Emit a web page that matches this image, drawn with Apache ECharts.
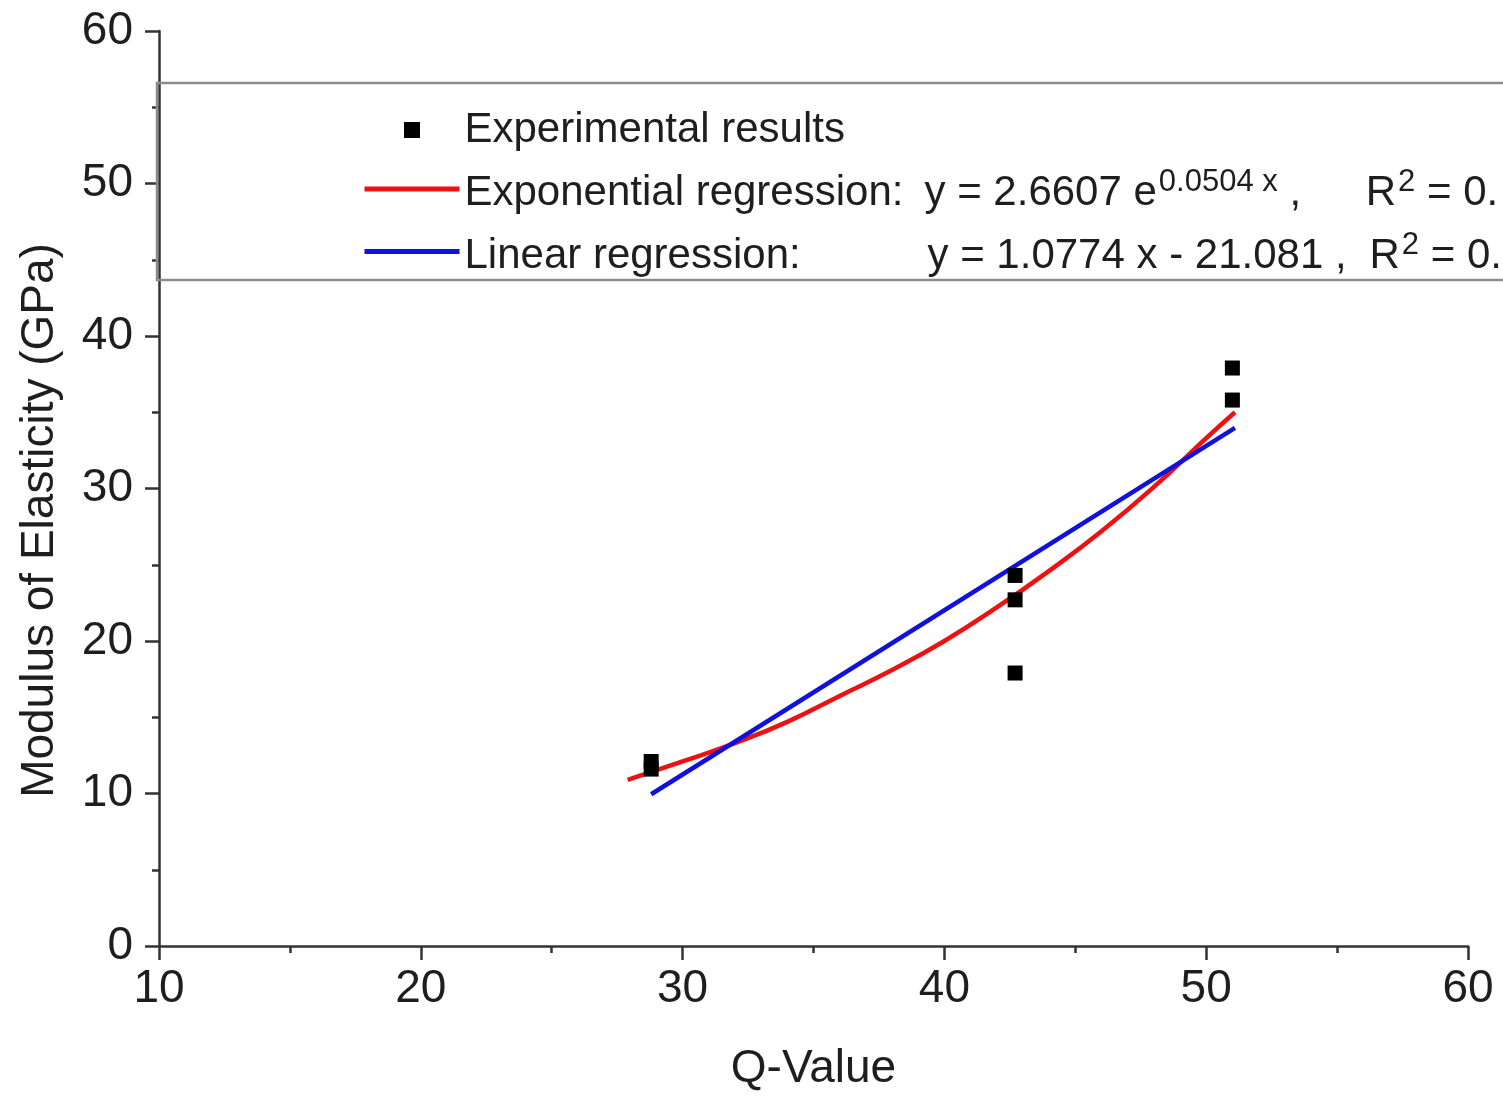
<!DOCTYPE html>
<html>
<head>
<meta charset="utf-8">
<script src="https://cdn.jsdelivr.net/npm/echarts@6/dist/echarts.min.js"></script>
<style>
html,body{margin:0;padding:0;background:#fff;overflow:hidden;}
#chart{width:1503px;height:1097px;}
</style>
</head>
<body>
<div id="chart"></div>
<script>
// ---- data ----
const expQ = [28.8, 28.8, 42.7, 42.7, 42.7, 51.0, 51.0];
const expE = [12.1, 11.6, 24.3, 22.7, 17.9, 37.9, 35.8];

const expFitQ = [27.9, 30, 32, 34, 36, 38, 40, 42, 44, 46, 48, 50, 51.1];
const expFitE = [10.9, 12.1, 13.3, 14.7, 16.4, 18.1, 20.0, 22.2, 24.6, 27.2, 30.1, 33.3, 35.0];

const linFitQ = [28.8, 51.1];
const linFitE = [9.95, 33.97];

const xTicks = [10, 20, 30, 40, 50, 60];
const yTicks = [0, 10, 20, 30, 40, 50, 60];

const seriesNames = ['Experimental results', 'Exponential regression', 'Linear regression'];

const pairs = (xs, ys) => xs.map((x, i) => [x, ys[i]]);

const FONT = '"Liberation Sans", Arial, sans-serif';
const TXT = '#1e1e1e';

const chart = echarts.init(document.getElementById('chart'), null, {renderer: 'canvas'});

const axisCommon = {
  axisLine: {show: true, lineStyle: {color: '#333', width: 2.5}},
  axisTick: {show: true, length: 14, lineStyle: {color: '#333', width: 2.5}},
  minorTick: {show: true, splitNumber: 2, length: 7, lineStyle: {color: '#333', width: 2.5}},
  splitLine: {show: false},
  minorSplitLine: {show: false}
};

const legendFormatter = function (name) {
  if (name === seriesNames[1]) {
    return '{t|Exponential regression:}{e|y = 2.6607 e}{s|0.0504 x}{c| ,}{r|R}{s|2}{v| = 0.}';
  } else if (name === seriesNames[2]) {
    return '{tl|Linear regression:}{l|y = 1.0774 x - 21.081 ,}{r|R}{s|2}{v| = 0.}';
  }
  return '{t0|' + name + '}';
};

const base0 = {fontFamily: FONT, fontSize: 42, color: TXT, lineHeight: 44};
const baseP = {fontFamily: FONT, fontSize: 42, color: TXT, lineHeight: 44, padding: [9, 0, 0, 0]};

chart.setOption({
  animation: false,
  backgroundColor: '#fff',
  grid: {left: 159, right: 35, top: 31, height: 918},
  legend: {
    show: true,
    orient: 'vertical',
    left: 157,
    top: 83,
    padding: [25, 80, 3, 205],
    itemWidth: 95,
    itemHeight: 20,
    itemGap: 11.5,
    selectedMode: false,
    borderColor: '#8c8c8c',
    borderWidth: 2.5,
    data: [
      {name: seriesNames[0], itemStyle: {color: '#000'}},
      {name: seriesNames[1], itemStyle: {opacity: 0}, lineStyle: {width: 5, color: '#ee1111'}},
      {name: seriesNames[2], itemStyle: {opacity: 0}, lineStyle: {width: 5, color: '#1111dd'}}
    ],
    formatter: legendFormatter,
    textStyle: {
      fontFamily: FONT, fontSize: 42, color: TXT, lineHeight: 44,
      rich: {
        t0: Object.assign({}, base0),
        t: Object.assign({}, baseP, {width: 460}),
        tl: Object.assign({}, baseP, {width: 463}),
        e: Object.assign({}, baseP),
        c: Object.assign({}, baseP, {width: 88}),
        l: Object.assign({}, baseP, {width: 442}),
        r: Object.assign({}, baseP),
        v: Object.assign({}, baseP),
        s: {fontFamily: FONT, fontSize: 31, color: TXT, lineHeight: 31, verticalAlign: 'top', padding: [0, 0, 0, 2]}
      }
    }
  },
  xAxis: Object.assign({
    type: 'value',
    min: 10, max: 60, interval: 10,
    name: 'Q-Value',
    nameLocation: 'middle',
    nameGap: 100,
    nameTextStyle: {fontFamily: FONT, fontSize: 46, color: TXT},
    axisLabel: {
      fontFamily: FONT, fontSize: 46, color: TXT, margin: 20,
      formatter: v => (xTicks.indexOf(v) >= 0 ? String(v) : '')
    }
  }, axisCommon),
  yAxis: Object.assign({
    type: 'value',
    min: 0, max: 60, interval: 10,
    name: 'Modulus of Elasticity (GPa)',
    nameLocation: 'middle',
    nameGap: 96,
    nameRotate: 90,
    nameTextStyle: {fontFamily: FONT, fontSize: 46, color: TXT, padding: [0, 64, 0, 0]},
    axisLabel: {
      fontFamily: FONT, fontSize: 46, color: TXT, margin: 26,
      formatter: v => (yTicks.indexOf(v) >= 0 ? String(v) : '')
    }
  }, axisCommon),
  series: [
    {
      name: seriesNames[0],
      type: 'line',
      data: pairs(expQ, expE),
      symbol: 'rect',
      symbolSize: 15,
      showSymbol: true,
      itemStyle: {color: '#000'},
      lineStyle: {opacity: 0, width: 0},
      z: 5
    },
    {
      name: seriesNames[1],
      type: 'line',
      data: pairs(expFitQ, expFitE),
      smooth: true,
      showSymbol: false,
      symbol: 'none',
      itemStyle: {color: '#ee1111'},
      lineStyle: {color: '#ee1111', width: 4.5},
      z: 3
    },
    {
      name: seriesNames[2],
      type: 'line',
      data: pairs(linFitQ, linFitE),
      showSymbol: false,
      symbol: 'none',
      itemStyle: {color: '#1111dd'},
      lineStyle: {color: '#1111dd', width: 4.5},
      z: 4
    }
  ]
});
</script>
</body>
</html>
